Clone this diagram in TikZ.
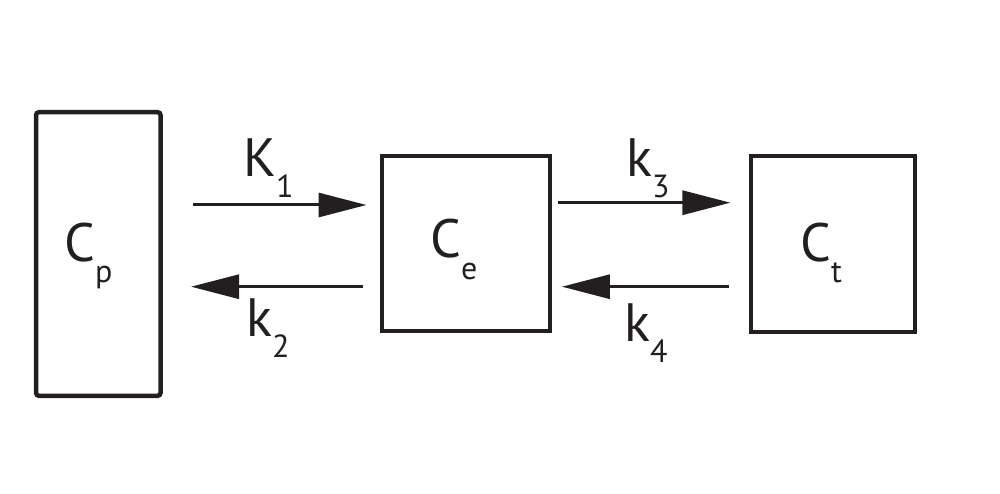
\documentclass[tikz,border=0pt]{standalone}
\usepackage{fontspec}
\setmainfont{PT Sans}
\usetikzlibrary{arrows.meta}
\definecolor{ink}{HTML}{231F20}
\newcommand\sublab[2]{{\fontsize{54}{60}\selectfont #1}\raisebox{-21pt}{\fontsize{32}{36}\selectfont #2}}
\tikzset{
  box/.style={draw=ink, rectangle, inner sep=0pt},
  lab/.style={anchor=base west, inner sep=0pt, text=ink},
  arr/.style={draw=ink, line width=3pt, -{Triangle[length=48pt,width=24pt]}},
}
\begin{document}
\begin{tikzpicture}[x=1pt,y=-1pt]
\useasboundingbox (0,0) rectangle (1000,494);
\node[box, line width=4.5pt, rounded corners=3pt, minimum width=124.5pt, minimum height=283.7pt] (Cp) at (98.3,254) {};
\node[box, line width=4pt, minimum width=168pt, minimum height=175.3pt] (Ce) at (465.8,243.4) {};
\node[box, line width=4pt, minimum width=164.3pt, minimum height=176pt] (Ct) at (833.2,243.7) {};
\node[lab] (lCp) at (64,261) {\sublab{C}{p}};
\node[lab] (lCe) at (430,258) {\sublab{C}{e}};
\node[lab] (lCt) at (800,261.7) {\sublab{C}{t}};
\coordinate (yA) at (0,205);
\coordinate (yB) at (0,286.7);
\coordinate (yC) at (0,202.7);
\draw[arr, shorten <=30.5pt, shorten >=13.3pt] (Cp.east |- yA) -- (Ce.west |- yA);
\draw[arr, shorten <=17.3pt, shorten >=28.2pt] (Ce.west |- yB) -- (Cp.east |- yB);
\draw[arr, shorten <=6.4pt, shorten >=18.6pt] (Ce.east |- yC) -- (Ct.west |- yC);
\draw[arr, shorten <=20.3pt, shorten >=10.1pt] (Ct.west |- yB) -- (Ce.east |- yB);
\node[lab] (lK1) at (243,177) {\sublab{K}{1}};
\node[lab] (lk2) at (246,336.7) {\sublab{k}{2}};
\node[lab] (lk3) at (626,176.7) {\sublab{k}{3}};
\node[lab] (lk4) at (624,341.7) {\sublab{k}{4}};
\end{tikzpicture}
\end{document}
